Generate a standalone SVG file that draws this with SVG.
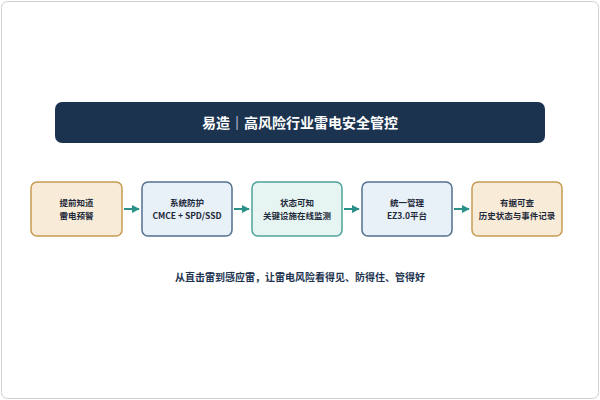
<svg xmlns="http://www.w3.org/2000/svg" width="600" height="400" viewBox="0 0 600 400">
<style>
text{font-family:"Noto Sans CJK SC","Noto Sans",sans-serif;font-weight:bold;text-anchor:middle}
.b{stroke-width:1.5}
.t{font-size:8.5px;fill:#1e2a3a}
.c{stroke:#2a9088;stroke-width:2;fill:none}
</style>
<defs><marker id="a" viewBox="0 0 10 10" refX="9" refY="5" markerWidth="4" markerHeight="4" orient="auto"><path d="M0,0L10,5L0,10z" fill="#2a9088"/></marker></defs>
<rect x="1.5" y="1.5" width="597" height="397" rx="6" fill="#fff" stroke="#d0d0d0"/>
<g id="title"><rect x="55" y="102" width="490" height="41" rx="7" fill="#1c3350"/><text x="300" y="128" font-size="14" fill="#fff">易造｜高风险行业雷电安全管控</text></g>
<g id="n1"><rect class="b" x="31" y="182" width="91" height="54" rx="6" fill="#f8ecd9" stroke="#c79a52"/><text class="t" x="76.5" y="206">提前知道</text><text class="t" x="76.5" y="219">雷电预警</text></g>
<g id="n2"><rect class="b" x="142" y="182" width="90" height="54" rx="6" fill="#e8f0f8" stroke="#52708f"/><text class="t" x="187" y="206">系统防护</text><text class="t" x="187" y="219">CMCE + SPD/SSD</text></g>
<g id="n3"><rect class="b" x="252" y="182" width="90" height="54" rx="6" fill="#e6f4f2" stroke="#4ea39b"/><text class="t" x="297" y="206">状态可知</text><text class="t" x="297" y="219">关键设施在线监测</text></g>
<g id="n4"><rect class="b" x="362" y="182" width="90" height="54" rx="6" fill="#e8f0f8" stroke="#52708f"/><text class="t" x="407" y="206">统一管理</text><text class="t" x="407" y="219">EZ3.0平台</text></g>
<g id="n5"><rect class="b" x="472" y="182" width="90" height="54" rx="6" fill="#f8ecd9" stroke="#c79a52"/><text class="t" x="517" y="206">有据可查</text><text class="t" x="517" y="219">历史状态与事件记录</text></g>
<g id="connectors">
<path class="c" d="M124,209H139" marker-end="url(#a)"/>
<path class="c" d="M234,209H249" marker-end="url(#a)"/>
<path class="c" d="M344,209H359" marker-end="url(#a)"/>
<path class="c" d="M454,209H469" marker-end="url(#a)"/>
</g>
<text x="300" y="281" font-size="10" fill="#1c3350">从直击雷到感应雷，让雷电风险看得见、防得住、管得好</text>
</svg>
